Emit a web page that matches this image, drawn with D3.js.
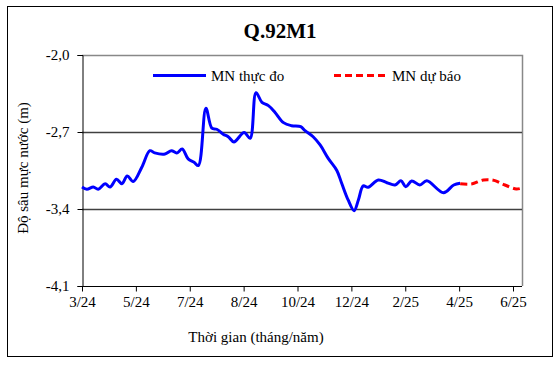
<!DOCTYPE html>
<html>
<head>
<meta charset="utf-8">
<script src="https://cdn.jsdelivr.net/npm/d3@7"></script>
<style>
  body { margin: 0; background: #fff; }
</style>
</head>
<body>
<script>
const m = { width: 559, height: 365 }
const plot = { left: 82, top: 55, right: 522, bottom: 286 }
const serif = '"Liberation Serif", "Times New Roman", "DejaVu Serif", serif'

// x is measured in tick steps (category axis, one label every few points)
const tickLabels = ['3/24', '5/24', '7/24', '8/24', '10/24', '12/24', '2/25', '4/25', '6/25']
const yTicks = [-2.0, -2.7, -3.4, -4.1]

const obsT = [0.0, 0.09, 0.21, 0.30, 0.43, 0.52, 0.64, 0.74, 0.84, 0.95, 1.11, 1.26, 1.35, 1.54, 1.66,
  1.76, 1.86, 1.97, 2.08, 2.16, 2.30, 2.41, 2.50, 2.62, 2.72, 2.82, 3.01, 3.12, 3.23, 3.34, 3.46,
  3.58, 3.74, 3.89, 4.06, 4.14, 4.29, 4.42, 4.57, 4.73, 4.82, 4.94, 5.05, 5.13, 5.22, 5.31, 5.50,
  5.66, 5.81, 5.92, 6.01, 6.12, 6.27, 6.40, 6.71, 6.90, 7.02]
const obsDepth = [-3.20, -3.22, -3.20, -3.22, -3.17, -3.20, -3.13, -3.17, -3.10, -3.15, -3.02, -2.87, -2.89, -2.90, -2.87,
  -2.89, -2.855, -2.945, -2.975, -3.005, -2.485, -2.665, -2.675, -2.72, -2.745, -2.79, -2.705, -2.757, -2.343, -2.43, -2.46,
  -2.52, -2.615, -2.643, -2.652, -2.688, -2.743, -2.818, -2.94, -3.05, -3.166, -3.318, -3.415, -3.318, -3.19, -3.203, -3.136,
  -3.161, -3.182, -3.143, -3.197, -3.145, -3.182, -3.143, -3.252, -3.182, -3.166]

const fcT = [7.02, 7.23, 7.45, 7.65, 7.85, 8.06, 8.17]
const fcDepth = [-3.17, -3.173, -3.136, -3.14, -3.182, -3.218, -3.209]

const svg = d3.select('body').append('svg')
  .attr('width', m.width)
  .attr('height', m.height)

// outer chart border
svg.append('rect')
  .attr('x', 7.5).attr('y', 6.5)
  .attr('width', 545).attr('height', 350)
  .attr('fill', '#fff')
  .attr('stroke', '#000')

const x = d3.scaleLinear()
  .domain([0, tickLabels.length - 1])
  .range([plot.left, plot.left + 53.875 * 8])

const y = d3.scaleLinear()
  .domain([-4.1, -2.0])
  .range([plot.bottom, plot.top])

// plot frame (top and right, grey)
svg.append('path')
  .attr('d', `M${plot.left},${plot.top + 0.5}H${plot.right + 0.5}V${plot.bottom}`)
  .attr('fill', 'none')
  .attr('stroke', '#888')
  .attr('stroke-width', 1.5)

// gridlines
svg.selectAll('.grid')
  .data([-2.7, -3.4])
  .enter()
  .append('line')
    .attr('x1', plot.left)
    .attr('x2', plot.right)
    .attr('y1', d => Math.round(y(d)) + 0.5)
    .attr('y2', d => Math.round(y(d)) + 0.5)
    .attr('stroke', '#404040')
    .attr('stroke-width', 1.3)

// y axis
const yAxis = d3.axisLeft(y)
  .tickValues(yTicks)
  .tickSize(5)
  .tickFormat(d => d3.format('.1f')(d).replace('.', ',').replace('−', '-'))

const gy = svg.append('g')
  .attr('transform', `translate(${plot.left + 0.5},0)`)
  .call(yAxis)
gy.attr('font-family', serif)
gy.select('.domain').attr('stroke', '#000')
gy.selectAll('text')
  .style('font-family', serif)
  .attr('font-size', 15)
  .attr('fill', '#000')
  .attr('x', -13)

// x axis
const xAxis = d3.axisBottom(x)
  .tickValues(d3.range(tickLabels.length))
  .tickSize(5)
  .tickFormat(i => tickLabels[i])

const gx = svg.append('g')
  .attr('transform', `translate(0,${plot.bottom + 0.5})`)
  .call(xAxis)
gx.attr('font-family', serif)
gx.select('.domain').attr('d', `M${plot.left},0H${plot.right}`).attr('stroke', '#000')
gx.selectAll('text')
  .style('font-family', serif)
  .attr('font-size', 15)
  .attr('fill', '#000')
  .attr('y', 10)

const line = d3.line()
  .x(d => x(d[0]))
  .y(d => y(d[1]))
  .curve(d3.curveCatmullRom.alpha(0.5))

svg.append('path')
  .datum(d3.zip(obsT, obsDepth))
  .attr('d', line)
  .attr('fill', 'none')
  .attr('stroke', '#0000ff')
  .attr('stroke-width', 3)
  .attr('stroke-linejoin', 'round')

svg.append('path')
  .datum(d3.zip(fcT, fcDepth))
  .attr('d', line)
  .attr('fill', 'none')
  .attr('stroke', '#ff0000')
  .attr('stroke-width', 3)
  .attr('stroke-dasharray', '7,4')

// title
svg.append('text')
  .attr('x', 280).attr('y', 38)
  .attr('text-anchor', 'middle')
  .attr('font-size', 21)
  .attr('font-weight', 'bold')
  .style('font-family', serif)
  .text('Q.92M1')

// legend
const legend = [
  { label: 'MN thực đo', color: '#0000ff', dash: null, x0: 153 },
  { label: 'MN dự báo', color: '#ff0000', dash: '7,4', x0: 334 }
]
legend.forEach(l => {
  svg.append('line')
    .attr('x1', l.x0).attr('x2', l.x0 + 53)
    .attr('y1', 75.5).attr('y2', 75.5)
    .attr('stroke', l.color)
    .attr('stroke-width', 3)
    .attr('stroke-dasharray', l.dash)
  svg.append('text')
    .attr('x', l.x0 + 58).attr('y', 80.5)
    .attr('font-size', 15)
    .style('font-family', serif)
    .text(l.label)
})

// axis titles
svg.append('text')
  .attr('transform', 'translate(28,168) rotate(-90)')
  .attr('text-anchor', 'middle')
  .attr('font-size', 15)
  .style('font-family', serif)
  .text('Độ sâu mực nước (m)')

svg.append('text')
  .attr('x', 256).attr('y', 342)
  .attr('text-anchor', 'middle')
  .attr('font-size', 15)
  .style('font-family', serif)
  .text('Thời gian (tháng/năm)')
</script>
</body>
</html>
